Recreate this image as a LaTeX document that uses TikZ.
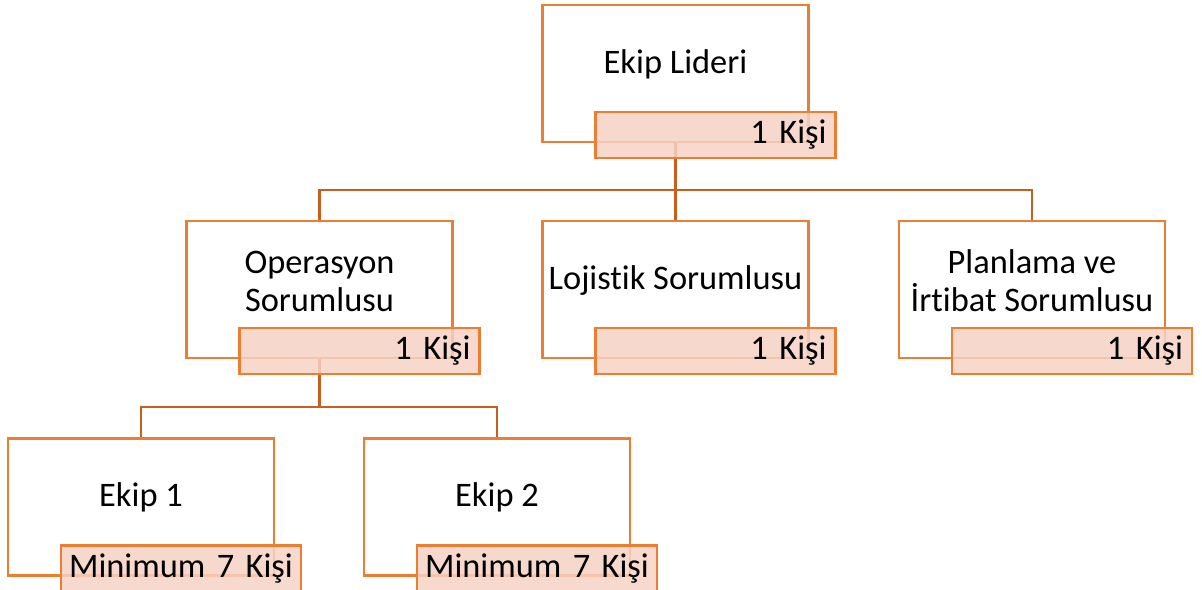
\documentclass[tikz,border=0pt]{standalone}
\usepackage{fontspec}
\setmainfont{Carlito}[Ligatures=NoCommon]
\definecolor{boxorange}{RGB}{237,125,49}
\definecolor{linkorange}{RGB}{200,95,30}
\definecolor{tagpink}{RGB}{246,210,196}

\begin{document}
\begin{tikzpicture}[x=0.75pt,y=0.75pt,yscale=-1,xscale=1,
  unit/.style={draw=boxorange, line width=2pt, fill=white, minimum width=199.5pt, minimum height=102.75pt, inner sep=0pt},
  tag/.style={draw=boxorange, line width=2pt, fill=tagpink, fill opacity=0.85, text opacity=1, minimum width=180pt, minimum height=34.5pt, inner sep=0pt, font=\fontsize{25.8}{28.5}\selectfont},
  oneperson/.style={tag, text width=166.5pt, align=right},
  crew/.style={tag, text width=180pt, align=center},
  txt/.style={inner sep=0pt, align=center, font=\fontsize{25.8}{28.5}\selectfont},
  link/.style={draw=linkorange, line width=1.7pt}]
\useasboundingbox (0,0) rectangle (1202,589);

%Shape: boxes
\node[unit] (lider) at (675.5,73.5) {};
\node[unit] (ops) at (319.5,289.5) {};
\node[unit] (loj) at (675.5,289.5) {};
\node[unit] (plan) at (1032,289.5) {};
\node[unit] (ekip1) at (141,507) {};
\node[unit] (ekip2) at (497,507) {};

%Straight Lines: connectors
\draw[link] (lider.south) -- (loj.north);
\draw[link] (lider.south) -- ++(0,47) -| (ops.north);
\draw[link] (lider.south) -- ++(0,47) -| (plan.north);
\draw[link] (ops.south) -- ++(0,48) -| (ekip1.north);
\draw[link] (ops.south) -- ++(0,48) -| (ekip2.north);

% Text Node
\node[txt] (lidertxt) at (675.5,64.5) {Ekip Lideri};
% Text Node
\node[txt] (opstxt) at (319.5,281) {Operasyon\\Sorumlusu};
% Text Node
\node[txt] (lojtxt) at (675.5,281) {Lojistik Sorumlusu};
% Text Node
\node[txt] (plantxt) at (1032,281) {Planlama ve\\İrtibat Sorumlusu};
% Text Node
\node[txt] (ekip1txt) at (141,497) {Ekip 1};
% Text Node
\node[txt] (ekip2txt) at (497,497) {Ekip 2};

%Shape: tags
\node[oneperson] (lidertag) at (715.5,135) {1 Kişi};
\node[oneperson] (opstag) at (359.5,351) {1 Kişi};
\node[oneperson] (lojtag) at (715.5,351) {1 Kişi};
\node[oneperson] (plantag) at (1072,351) {1 Kişi};
\node[crew] (ekip1tag) at (181,568.5) {Minimum 7 Kişi};
\node[crew] (ekip2tag) at (537,568.5) {Minimum 7 Kişi};

\end{tikzpicture}
\end{document}
